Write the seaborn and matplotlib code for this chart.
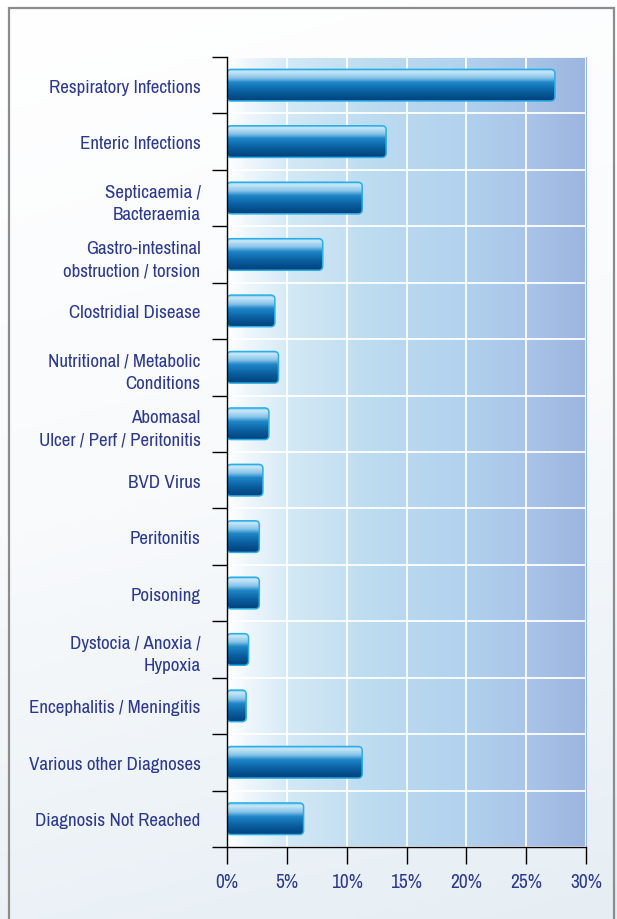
import numpy as np
import matplotlib
matplotlib.use("Agg")
import matplotlib.pyplot as plt
from matplotlib import font_manager
from matplotlib.colors import LinearSegmentedColormap
from matplotlib.patches import FancyBboxPatch, Rectangle
import seaborn as sns

# data (% of diagnoses)
categories = [
    "Respiratory Infections",
    "Enteric Infections",
    "Septicaemia /\nBacteraemia",
    "Gastro-intestinal\nobstruction / torsion",
    "Clostridial Disease",
    "Nutritional / Metabolic\nConditions",
    "Abomasal\nUlcer / Perf / Peritonitis",
    "BVD Virus",
    "Peritonitis",
    "Poisoning",
    "Dystocia / Anoxia /\nHypoxia",
    "Encephalitis / Meningitis",
    "Various other Diagnoses",
    "Diagnosis Not Reached",
]
values = [27.4, 13.3, 11.3, 8.0, 4.0, 4.3, 3.5, 3.0, 2.7, 2.7, 1.8, 1.6, 11.3, 6.4]
x_ticks = [0, 5, 10, 15, 20, 25, 30]
x_tick_labels = ["0%", "5%", "10%", "15%", "20%", "25%", "30%"]

navy = "#2d3a8c"

sns.set_style("white")

# pick a narrow face if one is installed
fonts = font_manager.fontManager.ttflist
narrow = [f for f in fonts if ("Narrow" in f.name or "Condensed" in f.name) and f.weight in (400, "normal", "regular")]
cond = [f for f in fonts if f.stretch in ("condensed", "semi-condensed") and f.weight in (400, "normal", "regular")]
font_kw = {}
if narrow:
    plt.rcParams['font.family'] = [narrow[0].name, 'DejaVu Sans']
elif cond:
    plt.rcParams['font.family'] = [cond[0].name, 'DejaVu Sans']
    font_kw = {"fontstretch": cond[0].stretch}
else:
    plt.rcParams['font.family'] = ['DejaVu Sans']
plt.rcParams['font.stretch'] = font_kw.get("fontstretch", "normal")

fig = plt.figure(figsize=(6.17, 9.2), dpi=100)

# page background with light gradient and frame
bg = fig.add_axes([0, 0, 1, 1], zorder=-10)
page_cmap = LinearSegmentedColormap.from_list("page", ["#ffffff", "#f8fafc", "#e6eef4"])
yy = np.linspace(0, 1, 256).reshape(-1, 1)
xx = np.linspace(0, 1, 64).reshape(1, -1)
bg.imshow(yy * 0.85 + xx * 0.15, cmap=page_cmap, aspect="auto", extent=(0, 1, 0, 1), origin="upper")
bg.add_patch(Rectangle((0.0145, -0.02), 0.981, 1.0105, fill=False, edgecolor="#8c8c8c", lw=1.6))
bg.set_xlim(0, 1)
bg.set_ylim(0, 1)
bg.axis("off")

ax = fig.add_axes([0.3679, 0.0783, 0.5819, 0.8587])
ax.patch.set_alpha(0)

sns.barplot(x=values, y=categories, orient="h", ax=ax, width=0.56, color="#0a63a8")

ax.set_xlim(0, 30)
ax.set_ylim(13.5, -0.5)

# plot area gradient
area_cmap = LinearSegmentedColormap.from_list(
    "area",
    [(0.0, "#ffffff"), (0.06, "#eef6fb"), (0.18, "#d2e8f5"), (0.4, "#bddcf0"),
     (0.65, "#b2d2ee"), (0.85, "#a8c3e7"), (1.0, "#9bb5df")])
ax.imshow(np.linspace(0, 1, 256).reshape(1, -1), cmap=area_cmap, aspect="auto",
          extent=(0, 30, 13.5, -0.5), zorder=0, interpolation="bilinear")

# glossy rounded bars
bar_cmap = LinearSegmentedColormap.from_list(
    "bar",
    [(0.0, "#6cc4ef"), (0.08, "#c9e9f8"), (0.28, "#86c3e8"), (0.42, "#1f86c8"),
     (0.7, "#0a5f9f"), (1.0, "#00407a")])
asp = (14 / 790) / (30 / 359)
grad = np.linspace(0, 1, 256).reshape(-1, 1)
for patch in list(ax.patches):
    x0, y0 = patch.get_x(), patch.get_y()
    w, h = patch.get_width(), patch.get_height()
    patch.set_visible(False)
    box = FancyBboxPatch((x0, y0), w, h, boxstyle="round,pad=0,rounding_size=0.35",
                         mutation_aspect=asp, transform=ax.transData)
    im = ax.imshow(grad, cmap=bar_cmap, aspect="auto", extent=(x0, x0 + w, y0 + h, y0),
                   origin="upper", zorder=3, interpolation="bilinear")
    im.set_clip_path(box)
    edge = FancyBboxPatch((x0, y0), w, h, boxstyle="round,pad=0,rounding_size=0.35",
                          mutation_aspect=asp, facecolor="none", edgecolor="#2aaee6",
                          lw=1.1, zorder=4)
    ax.add_patch(edge)

ax.set_xlim(0, 30)
ax.set_ylim(13.5, -0.5)

ax.set_xticks(x_ticks)
ax.set_xticklabels(x_tick_labels)
ax.set_yticks(range(len(categories)))
ax.set_yticklabels(categories)
ax.set_yticks(np.arange(-0.5, len(categories), 1), minor=True)
ax.set_xlabel("")
ax.set_ylabel("")

ax.tick_params(axis="x", which="major", direction="out", length=12, width=1, color="black",
               labelcolor=navy, labelsize=14, pad=6, bottom=True)
ax.tick_params(axis="y", which="major", length=0, pad=19, labelcolor=navy, labelsize=13.7)
ax.tick_params(axis="y", which="minor", direction="out", length=11, width=1, color="black", left=True)
for lbl in ax.get_yticklabels():
    lbl.set_linespacing(1.5)

ax.set_axisbelow(True)
ax.grid(axis="x", which="major", color="white", lw=1.3, zorder=1)
ax.grid(axis="y", which="minor", color="white", lw=1.3, zorder=1)
ax.grid(axis="y", which="major", visible=False)

for side in ["top", "right"]:
    ax.spines[side].set_visible(False)
for side in ["left", "bottom"]:
    ax.spines[side].set_color("black")
    ax.spines[side].set_linewidth(1)
    ax.spines[side].set_zorder(5)

fig.savefig("out.png", dpi=100)
